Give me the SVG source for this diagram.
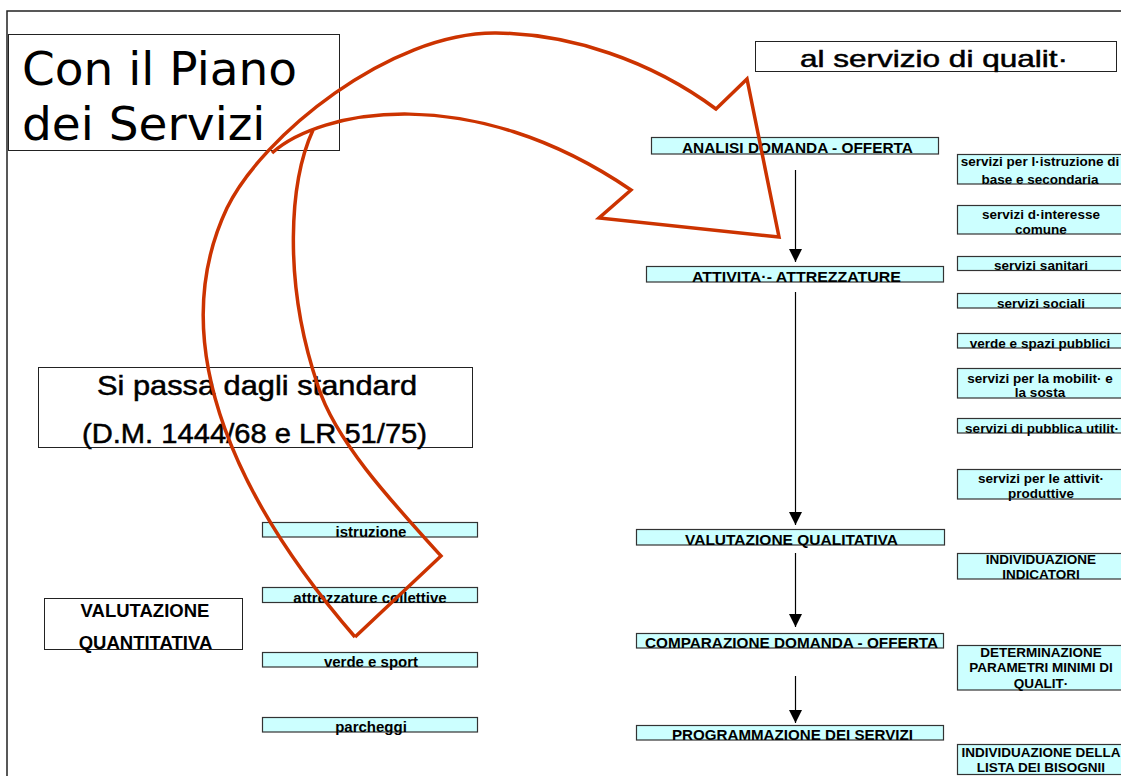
<svg xmlns="http://www.w3.org/2000/svg" width="1121" height="776" viewBox="0 0 1121 776">
  <style>
    .frame { fill: none; stroke: #222; stroke-width: 1.5; }
    .title { fill: #fff; stroke: #222; stroke-width: 1; }
    .cell { fill: #ccffff; stroke: #333; stroke-width: 1.2; }
    .big { font-family: "DejaVu Sans", sans-serif; font-size: 47px; fill: #000; }
    .head { font-family: "Liberation Sans", Arial, sans-serif; fill: #000; stroke: #000; stroke-width: 0.5; }
    .flow { font-family: "Liberation Sans", Arial, sans-serif; font-weight: bold; font-size: 15px; fill: #000; text-anchor: middle; }
    .label { font-family: "Liberation Sans", Arial, sans-serif; font-weight: bold; font-size: 18.5px; fill: #000; text-anchor: middle; }
    .side { font-family: "Liberation Sans", Arial, sans-serif; font-weight: bold; font-size: 13.5px; fill: #000; text-anchor: middle; }
    .link { stroke: #000; stroke-width: 1.2; fill: none; }
    .swoosh { fill: none; stroke: #cc3300; stroke-width: 3.5; stroke-linejoin: miter; }
  </style>
  <defs>
    <marker id="tip" markerUnits="userSpaceOnUse" markerWidth="14" markerHeight="14" refX="13" refY="6.5" orient="auto">
      <path d="M0,0 L13,6.5 L0,13 z" fill="#000"/>
    </marker>
  </defs>

  <rect width="1121" height="776" fill="#fff"/>

  <!-- page frame -->
  <path class="frame" d="M7,776 L7,11 L1121,11"/>

  <!-- headings -->
  <g id="piano-servizi">
    <rect class="title" x="8.5" y="34.5" width="331" height="116"/>
    <text class="big" x="22" y="85">Con il Piano</text>
    <text class="big" x="22" y="140">dei Servizi</text>
  </g>
  <g id="servizio-qualita">
    <rect class="title" x="755.5" y="41.5" width="361" height="30"/>
    <text class="head" x="800" y="67" font-size="24" textLength="268" lengthAdjust="spacingAndGlyphs">al servizio di qualit·</text>
  </g>
  <g id="standard">
    <rect class="title" x="38.5" y="367.5" width="434" height="80"/>
    <text class="head" x="97" y="395" font-size="28" textLength="320" lengthAdjust="spacingAndGlyphs">Si passa dagli standard</text>
    <text class="head" x="82" y="443" font-size="28" textLength="345" lengthAdjust="spacingAndGlyphs">(D.M. 1444/68 e LR 51/75)</text>
  </g>
  <g id="valutazione-quantitativa">
    <rect class="title" x="44.5" y="598.5" width="198" height="51"/>
    <text class="label" x="145" y="617">VALUTAZIONE</text>
    <text class="label" x="145.5" y="649">QUANTITATIVA</text>
  </g>

  <!-- standard categories -->
  <g id="istruzione">
    <rect class="cell" x="262.5" y="522.5" width="215" height="14.5"/>
    <text class="flow" x="371" y="537">istruzione</text>
  </g>
  <g id="attrezzature-collettive">
    <rect class="cell" x="262.5" y="587.5" width="215" height="15"/>
    <text class="flow" x="370" y="602.5">attrezzature collettive</text>
  </g>
  <g id="verde-sport">
    <rect class="cell" x="262.5" y="652.5" width="215" height="14.5"/>
    <text class="flow" x="371" y="667">verde e sport</text>
  </g>
  <g id="parcheggi">
    <rect class="cell" x="262.5" y="717.5" width="215" height="14.5"/>
    <text class="flow" x="371" y="732">parcheggi</text>
  </g>

  <!-- process steps -->
  <g id="analisi">
    <rect class="cell" x="651.5" y="137.5" width="287" height="16.5"/>
    <text class="flow" x="797.5" y="153" textLength="231" lengthAdjust="spacingAndGlyphs">ANALISI DOMANDA - OFFERTA</text>
  </g>
  <g id="attivita">
    <rect class="cell" x="646.5" y="266.5" width="297" height="15.5"/>
    <text class="flow" x="796.5" y="281.5" textLength="209" lengthAdjust="spacingAndGlyphs">ATTIVITA·- ATTREZZATURE</text>
  </g>
  <g id="valutazione-qualitativa">
    <rect class="cell" x="636.5" y="529.5" width="308" height="15.5"/>
    <text class="flow" x="791.5" y="544.5" textLength="213" lengthAdjust="spacingAndGlyphs">VALUTAZIONE QUALITATIVA</text>
  </g>
  <g id="comparazione">
    <rect class="cell" x="636.5" y="633.5" width="307" height="14.5"/>
    <text class="flow" x="791.5" y="648" textLength="293" lengthAdjust="spacingAndGlyphs">COMPARAZIONE DOMANDA - OFFERTA</text>
  </g>
  <g id="programmazione">
    <rect class="cell" x="636.5" y="725.5" width="307" height="14.5"/>
    <text class="flow" x="792.5" y="739.5" textLength="241" lengthAdjust="spacingAndGlyphs">PROGRAMMAZIONE DEI SERVIZI</text>
  </g>

  <!-- service types -->
  <g id="srv-istruzione">
    <rect class="cell" x="957.5" y="154.5" width="170" height="29.5"/>
    <text class="side" x="1040" y="165.5">servizi per l·istruzione di</text>
    <text class="side" x="1040" y="183.5">base e secondaria</text>
  </g>
  <g id="srv-interesse">
    <rect class="cell" x="957.5" y="205.5" width="170" height="28.5"/>
    <text class="side" x="1041" y="218.5">servizi d·interesse</text>
    <text class="side" x="1041" y="233.5">comune</text>
  </g>
  <g id="srv-sanitari">
    <rect class="cell" x="957.5" y="256.5" width="170" height="14"/>
    <text class="side" x="1041" y="270">servizi sanitari</text>
  </g>
  <g id="srv-sociali">
    <rect class="cell" x="957.5" y="293.5" width="170" height="14.5"/>
    <text class="side" x="1041" y="307.5">servizi sociali</text>
  </g>
  <g id="srv-verde">
    <rect class="cell" x="957.5" y="333.5" width="170" height="14.5"/>
    <text class="side" x="1040" y="347.5">verde e spazi pubblici</text>
  </g>
  <g id="srv-mobilita">
    <rect class="cell" x="957.5" y="368.5" width="170" height="29.5"/>
    <text class="side" x="1040" y="382.5">servizi per la mobilit· e</text>
    <text class="side" x="1040" y="397">la sosta</text>
  </g>
  <g id="srv-pubblica">
    <rect class="cell" x="957.5" y="418.5" width="170" height="14.5"/>
    <text class="side" x="1042" y="432.5">servizi di pubblica utilit·</text>
  </g>
  <g id="srv-produttive">
    <rect class="cell" x="957.5" y="469.5" width="170" height="29.5"/>
    <text class="side" x="1041" y="482.5">servizi per le attivit·</text>
    <text class="side" x="1041" y="498">produttive</text>
  </g>
  <g id="indicatori">
    <rect class="cell" x="957.5" y="553.5" width="170" height="25.5"/>
    <text class="side" x="1041" y="563.5">INDIVIDUAZIONE</text>
    <text class="side" x="1041" y="578.5">INDICATORI</text>
  </g>
  <g id="parametri">
    <rect class="cell" x="957.5" y="645.5" width="170" height="44.5"/>
    <text class="side" x="1041" y="657">DETERMINAZIONE</text>
    <text class="side" x="1041" y="672">PARAMETRI MINIMI DI</text>
    <text class="side" x="1041" y="688">QUALIT·</text>
  </g>
  <g id="bisogni">
    <rect class="cell" x="957.5" y="744.5" width="170" height="30"/>
    <text class="side" x="1041" y="757">INDIVIDUAZIONE DELLA</text>
    <text class="side" x="1041" y="772">LISTA DEI BISOGNII</text>
  </g>

  <!-- flow arrows -->
  <g id="connectors">
    <line class="link" x1="795.5" y1="170" x2="795.5" y2="262" marker-end="url(#tip)"/>
    <line class="link" x1="795.5" y1="292" x2="795.5" y2="525" marker-end="url(#tip)"/>
    <line class="link" x1="795.5" y1="553" x2="795.5" y2="627" marker-end="url(#tip)"/>
    <line class="link" x1="795.5" y1="676" x2="795.5" y2="723" marker-end="url(#tip)"/>
  </g>

  <!-- curved outline arrow from the standards to the services -->
  <g id="curved-arrow">
    <path class="swoosh" d="M355,637 C245,510 160,350 227,208 C262,136 390,32 496,33 C570,34 650,60 716,109 L747,79 L779,237 L599,218 L631,190 C470,80 320,110 272,153"/>
    <path class="swoosh" d="M313,130 C290,180 282,280 318,386 C335,440 390,500 441,556 L355,637"/>
  </g>
</svg>
